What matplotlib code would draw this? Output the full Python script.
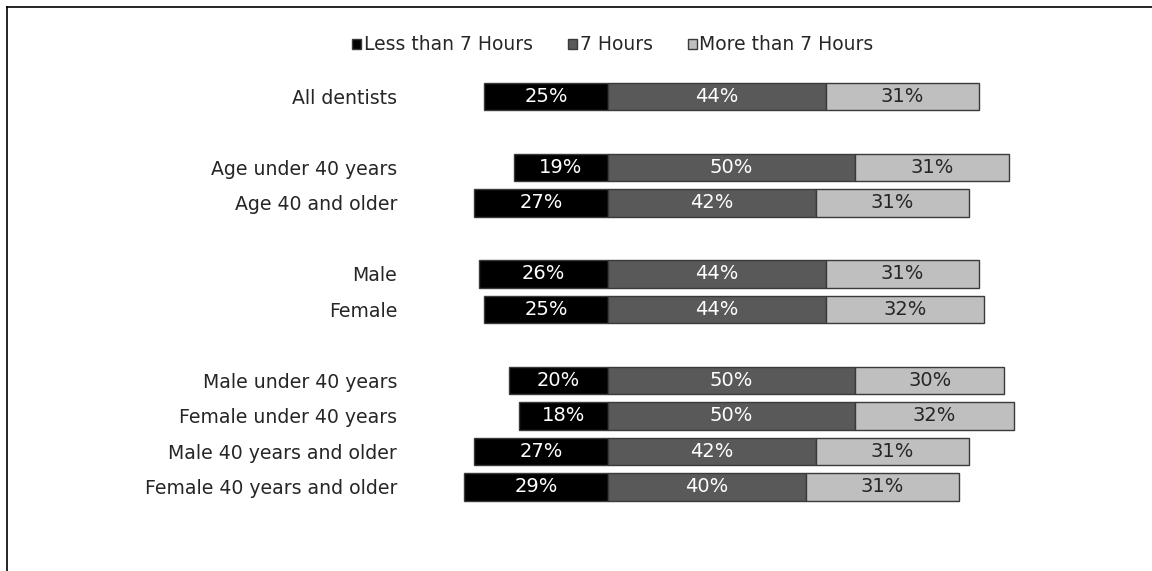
import matplotlib.pyplot as plt
from matplotlib.lines import Line2D
import numpy as np

categories = [
    "All dentists",
    "Age under 40 years",
    "Age 40 and older",
    "Male",
    "Female",
    "Male under 40 years",
    "Female under 40 years",
    "Male 40 years and older",
    "Female 40 years and older",
]
row_pos = [0, 2, 3, 5, 6, 8, 9, 10, 11]
less_7 = [25, 19, 27, 26, 25, 20, 18, 27, 29]
eq_7 = [44, 50, 42, 44, 44, 50, 50, 42, 40]
more_7 = [31, 31, 31, 31, 32, 30, 32, 31, 31]
series_names = ["Less than 7 Hours", "7 Hours", "More than 7 Hours"]
colors = ["#000000", "#595959", "#bfbfbf"]
text_colors = ["white", "white", "#262626"]

W, H = 1152, 571
fig = plt.figure(figsize=(W / 100, H / 100), dpi=100)
ax = fig.add_axes([400 / W, 1 - 520 / H, 700 / W, 450 / H])

y = np.array(row_pos)
less = np.array(less_7)
mid = np.array(eq_7)
more = np.array(more_7)
bh = 0.78
edge = "#3a3a3a"

b1 = ax.barh(y, -less, height=bh, color=colors[0], edgecolor=edge, lw=1, label=series_names[0])
b2 = ax.barh(y, mid, height=bh, color=colors[1], edgecolor=edge, lw=1, label=series_names[1])
b3 = ax.barh(y, more, left=mid, height=bh, color=colors[2], edgecolor=edge, lw=1, label=series_names[2])

fs_val = 14
for i in range(len(y)):
    ax.text(-less[i] / 2, y[i], f"{less[i]}%", ha="center", va="center", color=text_colors[0], fontsize=fs_val)
    ax.text(mid[i] / 2, y[i], f"{mid[i]}%", ha="center", va="center", color=text_colors[1], fontsize=fs_val)
    ax.text(mid[i] + more[i] / 2, y[i], f"{more[i]}%", ha="center", va="center", color=text_colors[2], fontsize=fs_val)

ax.set_xlim(-42, 99.4)
ax.set_ylim(11.93, -0.746)
ax.set_yticks(y)
ax.set_yticklabels(categories, fontsize=13.6, color="#262626")
ax.tick_params(axis="y", length=0, pad=2)
ax.set_xticks([])
for s in ax.spines.values():
    s.set_visible(False)

fig.legend(
    handles=[b1, b2, b3],
    labels=series_names,
    loc="center",
    bbox_to_anchor=(613 / W, 1 - 45 / H),
    ncol=3,
    frameon=False,
    fontsize=13.5,
    handlelength=0.45,
    handleheight=0.45,
    handletextpad=0.15,
    columnspacing=1.9,
    labelcolor="#262626",
)

# outer frame (only top and left edges are visible in the crop)
fig.add_artist(Line2D([7 / W, 1], [1 - 7 / H, 1 - 7 / H], color="black", lw=1.2, transform=fig.transFigure))
fig.add_artist(Line2D([7 / W, 7 / W], [0, 1 - 7 / H], color="black", lw=1.2, transform=fig.transFigure))

fig.savefig("out.png", dpi=100)
